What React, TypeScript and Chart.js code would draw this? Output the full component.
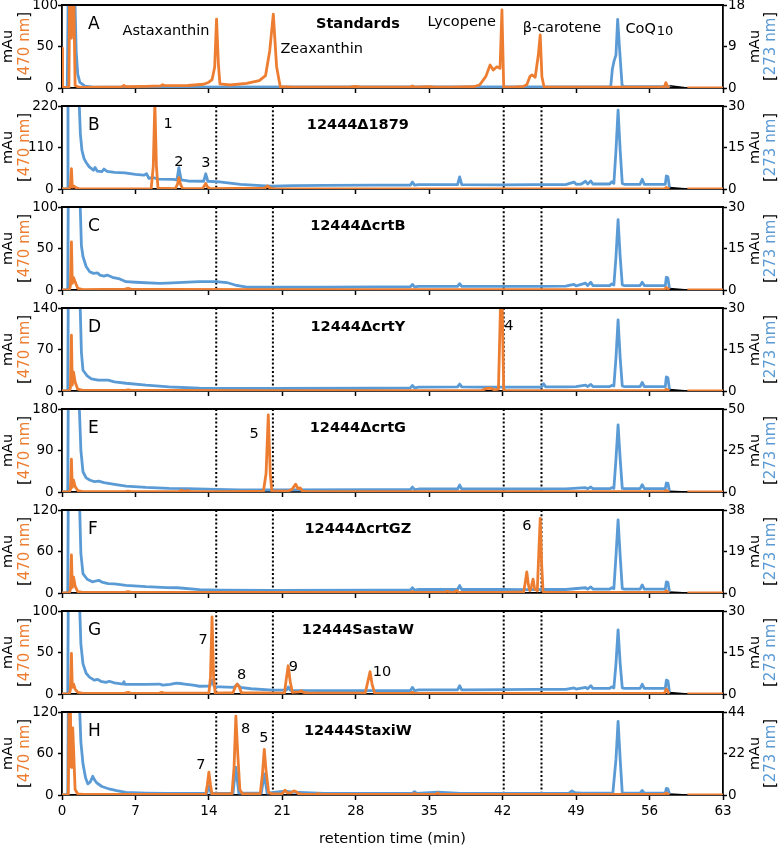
import React, { useEffect, useRef } from 'react';
import { Chart, registerables } from 'chart.js';

Chart.register(...registerables);

const ORANGE = '#ED7D31';
const BLUE = '#5B9BD5';
const FONT = 'DejaVu Sans';

type P = [number, number | null];

// ---------- data ----------
const panelLetters = ['A', 'B', 'C', 'D', 'E', 'F', 'G', 'H'];
const panelTitles = ['Standards', '12444Δ1879', '12444ΔcrtB', '12444ΔcrtY', '12444ΔcrtG', '12444ΔcrtGZ', '12444SastaW', '12444StaxiW'];
const leftMax = [100, 220, 100, 140, 180, 120, 100, 120];
const rightMax = [18, 30, 30, 30, 50, 38, 30, 44];
const markerTimes = [14.7, 20.1, 42.1, 45.7];
const timeMin = 0;
const timeMax = 63;
const timeStep = 7;

const orangeA: P[] = [[0, 48], [0.05, 1], [0.6, 0.5], [0.66, 2], [0.72, 110], [0.8, 110], [0.9, 60], [1.0, 110], [1.12, 110], [1.25, 3], [1.6, 1], [2, 0.8], [4, 1], [5.7, 1.2], [5.9, 3], [6.1, 1.5], [8, 2], [9.4, 2.5], [9.6, 4], [9.8, 2.8], [12, 3], [13.5, 4.5], [14.0, 7], [14.3, 10], [14.55, 25], [14.73, 83], [14.9, 30], [15.05, 5], [16, 3.6], [17.6, 5.5], [18.8, 9], [19.4, 15], [19.8, 45], [20.14, 89], [20.45, 26], [20.8, 1.5], [22, 1], [25, 1], [27.5, 1.2], [28, 2], [28.5, 1], [30, 1], [33.2, 1], [33.4, 2.5], [33.6, 1], [35, 1.5], [35.5, 1], [37, 1], [39.2, 1.5], [39.8, 3.6], [40.4, 14], [40.8, 27.7], [41.1, 21.7], [41.45, 25.7], [41.75, 23.7], [41.93, 94], [42.1, 1], [43, 1], [44.0, 2], [44.3, 4], [44.6, 14], [44.8, 15.7], [45.1, 12.9], [45.4, 40], [45.58, 64], [45.74, 13.6], [45.95, 1], [50, 1], [57.4, 1], [57.55, 6.4], [57.75, 1], [57.9, 0.5], [58.6, null], [59.6, 0], [63, 0]];
const blueA: P[] = [[0, 0], [0.5, 0], [0.6, 22], [1.2, 22], [1.35, 8], [1.5, 3], [1.7, 1.2], [2.2, 0.4], [3, 0.2], [52.3, 0.3], [52.45, 4], [52.6, 5.7], [52.8, 7.2], [52.96, 14.9], [53.15, 8.2], [53.38, 0.6], [53.6, 0.3], [57.9, 0.3]];

const orangeB: P[] = [[0, 0], [0.7, 0], [0.8, 10], [0.9, 54], [0.98, 5], [1.1, 8], [1.3, 4], [1.6, 1], [2, 0.5], [5, 0.5], [8.5, 1], [8.7, 60], [8.85, 230], [9.0, 60], [9.15, 2], [10.8, 1], [11.0, 12], [11.14, 30], [11.3, 12], [11.5, 1], [13.4, 1], [13.6, 10], [13.7, 14.7], [13.85, 6], [14.1, 1], [19.3, 2], [19.6, 8], [19.8, 3], [20.2, 0.5], [57.4, 0.5], [57.6, 4], [57.8, 1], [57.9, 0.5], [58.6, null], [59.6, 0], [63, 0]];
const blueB: P[] = [[0, 0], [0.5, 0], [0.57, 35], [1.6, 35], [1.75, 20], [1.9, 14], [2.1, 11], [2.3, 9.6], [2.6, 8], [3.0, 6.8], [3.15, 7.8], [3.35, 6.5], [3.8, 6.3], [4.0, 7.2], [4.3, 6.4], [5, 6.0], [6, 5.8], [7, 5.3], [7.8, 5.0], [8.05, 5.5], [8.3, 3.8], [8.6, 4.2], [9.2, 3.6], [10.6, 3.5], [10.95, 3.3], [11.14, 7.7], [11.35, 3.3], [12, 2.9], [13.5, 2.8], [13.7, 5.5], [13.9, 2.8], [15, 2.6], [17, 1.7], [19, 1.2], [20, 1.0], [22, 1.2], [25, 1.3], [30, 1.4], [33.2, 1.4], [33.4, 2.5], [33.6, 1.4], [34, 1.6], [37.7, 1.6], [37.9, 4.4], [38.1, 1.6], [42, 1.5], [45, 1.6], [48, 1.6], [48.8, 2.5], [49, 1.7], [49.5, 1.8], [49.9, 2.8], [50.1, 1.8], [50.4, 2.9], [50.6, 1.8], [52.2, 1.8], [52.4, 2.6], [52.6, 2], [52.8, 14], [53.0, 28.5], [53.2, 14], [53.4, 2], [53.6, 1.7], [55.1, 1.7], [55.3, 3.5], [55.5, 1.7], [57.5, 1.7], [57.6, 4.7], [57.75, 4.5], [57.9, 0.5]];

const orangeC: P[] = [[0, 0], [0.7, 0], [0.8, 5], [0.9, 58], [0.98, 8], [1.1, 15], [1.25, 10], [1.5, 2], [2, 0.5], [6, 1], [6.3, 2], [6.6, 0.8], [10, 0.8], [20, 0.5], [57.4, 0.5], [57.6, 3], [57.8, 1], [57.9, 0.5], [58.6, null], [59.6, 0], [63, 0]];
const blueC: P[] = [[0, 0], [0.55, 0], [0.6, 35], [1.7, 35], [1.85, 16], [2.0, 12.1], [2.3, 8.5], [2.64, 6.6], [3.0, 6.0], [3.4, 6.2], [3.6, 5.4], [4.0, 5.0], [4.3, 5.4], [4.8, 4.6], [5.5, 4.0], [6.1, 3.0], [7, 2.8], [9.3, 2.4], [10, 2.5], [11, 2.7], [13.1, 3.0], [14.7, 3.0], [15.7, 2.7], [16.5, 1.8], [17.6, 1.0], [20, 1.0], [25, 1.0], [30, 1.1], [33.2, 1.1], [33.4, 2.0], [33.6, 1.1], [34, 1.3], [37.7, 1.3], [37.9, 2.3], [38.1, 1.3], [42, 1.3], [45, 1.3], [48, 1.4], [48.8, 2.0], [49, 1.5], [49.9, 2.5], [50.1, 1.6], [50.4, 2.8], [50.6, 1.6], [52.2, 1.6], [52.4, 2.2], [52.6, 1.8], [52.8, 12], [53.0, 25.4], [53.2, 12], [53.4, 1.8], [53.6, 1.6], [55.1, 1.6], [55.3, 2.8], [55.5, 1.6], [57.5, 1.6], [57.6, 4.6], [57.75, 4.3], [57.9, 0.5]];

const orangeD: P[] = [[0, 0], [0.7, 0], [0.8, 5], [0.9, 94], [0.98, 10], [1.1, 32], [1.25, 15], [1.5, 3], [2, 1], [6, 1], [6.3, 2], [6.6, 1], [10, 1], [20, 0.7], [40, 0.7], [40.4, 4], [40.8, 5], [41.2, 2], [41.6, 3], [41.8, 150], [41.95, 150], [42.1, 2], [42.3, 0.7], [57.4, 0.7], [57.6, 3], [57.8, 1], [57.9, 0.5], [58.6, null], [59.6, 0], [63, 0]];
const blueD: P[] = [[0, 0], [0.55, 0], [0.6, 35], [1.7, 35], [1.85, 14], [2.0, 7.5], [2.4, 5.5], [2.8, 4.4], [3.44, 3.9], [4.4, 3.9], [5, 3.3], [6.1, 2.8], [8, 2.1], [10.2, 1.5], [13.1, 1.0], [16, 0.9], [20, 0.9], [30, 1.0], [33.2, 1.1], [33.4, 2.0], [33.6, 1.1], [34, 1.4], [37.7, 1.5], [37.9, 2.5], [38.1, 1.5], [40, 1.4], [41.5, 1.4], [42.2, 1.4], [45.7, 1.4], [45.9, 2.6], [46.1, 1.5], [48, 1.5], [49, 1.6], [49.9, 2.1], [50.1, 1.6], [50.4, 2.4], [50.6, 1.6], [52.2, 1.6], [52.4, 2.0], [52.6, 1.8], [52.8, 12], [53.0, 25.7], [53.2, 12], [53.4, 1.8], [53.6, 1.6], [55.1, 1.6], [55.3, 3.1], [55.5, 1.6], [57.5, 1.6], [57.6, 5.1], [57.75, 4.8], [57.9, 0.5]];

const orangeE: P[] = [[0, 0], [0.7, 0], [0.8, 5], [0.9, 71], [0.98, 10], [1.1, 26], [1.25, 12], [1.5, 3], [2, 1], [6, 1], [6.3, 2], [6.6, 1], [11.2, 1], [11.4, 4], [11.6, 1.5], [12.0, 3], [12.2, 1], [15, 1], [18, 1.5], [19.2, 2], [19.45, 40], [19.66, 167], [19.85, 40], [20.0, 2], [21.5, 2], [21.9, 5], [22.27, 17], [22.5, 7], [22.7, 9], [22.9, 2], [23.5, 1], [57.4, 1], [57.6, 3], [57.8, 1], [57.9, 0.5], [58.6, null], [59.6, 0], [63, 0]];
const blueE: P[] = [[0, 0], [0.55, 0], [0.6, 60], [1.6, 60], [1.8, 25], [2.0, 12.2], [2.3, 8.5], [2.64, 7.2], [3.1, 6.2], [3.5, 6.5], [4.0, 5.6], [5, 4.6], [6.1, 3.6], [8, 2.8], [10.2, 2.2], [12, 2.0], [14.7, 1.6], [17, 1.2], [20, 1.2], [30, 1.4], [33.2, 1.4], [33.4, 3], [33.6, 1.4], [34, 1.8], [37.7, 1.8], [37.9, 4.2], [38.1, 1.8], [42, 1.8], [45, 1.8], [48, 1.9], [49.9, 2.6], [50.1, 2.0], [50.4, 3.0], [50.6, 2.0], [52.2, 2.0], [52.4, 2.6], [52.6, 2.2], [52.8, 20], [53.0, 40.4], [53.2, 20], [53.4, 2.2], [53.6, 2.0], [55.1, 2.0], [55.3, 4.4], [55.5, 2.0], [57.5, 2.0], [57.6, 5.4], [57.75, 5.2], [57.9, 0.5]];

const orangeF: P[] = [[0, 0], [0.7, 0], [0.8, 5], [0.9, 55], [0.98, 8], [1.1, 23], [1.25, 10], [1.5, 2], [2, 0.8], [6, 1], [6.3, 2], [6.6, 0.8], [20, 0.8], [33.2, 0.8], [33.4, 2], [33.6, 0.8], [36.4, 0.8], [36.7, 2.5], [37.0, 1], [37.4, 1], [37.6, 3.5], [37.8, 1], [40, 1], [42, 1], [44.0, 1.5], [44.15, 15], [44.3, 30.5], [44.45, 12], [44.6, 3], [44.75, 10], [44.9, 20], [45.05, 6], [45.3, 3], [45.45, 60], [45.58, 108], [45.72, 40], [45.85, 2], [46.1, 0.8], [57.4, 0.8], [57.6, 3], [57.8, 1], [57.9, 0.5], [58.6, null], [59.6, 0], [63, 0]];
const blueF: P[] = [[0, 0], [0.55, 0], [0.6, 45], [1.65, 45], [1.8, 18], [2.0, 8.9], [2.4, 6.3], [2.9, 5.1], [3.3, 5.6], [3.5, 5.8], [3.8, 5.0], [4.4, 4.3], [5, 4.2], [6.1, 3.5], [8, 2.9], [10, 2.5], [11, 2.4], [13.1, 1.5], [15, 1.3], [20, 1.2], [30, 1.3], [33.2, 1.3], [33.4, 2.4], [33.6, 1.3], [34, 1.6], [37.7, 1.6], [37.9, 3.4], [38.1, 1.6], [42, 1.6], [44, 1.5], [46.2, 1.6], [48, 1.6], [49.9, 2.4], [50.1, 1.8], [50.4, 2.8], [50.6, 1.8], [52.2, 1.8], [52.4, 2.4], [52.6, 2.0], [52.8, 17], [53.0, 33.5], [53.2, 17], [53.4, 2.0], [53.6, 1.8], [55.1, 1.8], [55.3, 3.7], [55.5, 1.8], [57.5, 1.8], [57.6, 5.1], [57.75, 4.9], [57.9, 0.5]];

const orangeG: P[] = [[0, 0], [0.7, 0], [0.8, 5], [0.9, 49], [0.98, 8], [1.1, 12], [1.25, 6], [1.5, 2], [2, 0.8], [6, 1], [6.3, 2], [6.6, 0.8], [9.3, 1], [9.5, 2], [9.7, 1], [14.0, 1], [14.15, 20], [14.3, 93], [14.45, 20], [14.6, 1], [16.3, 1.5], [16.5, 8], [16.7, 12], [16.9, 8], [17.1, 1.5], [21.2, 1], [21.4, 20], [21.56, 34], [21.75, 15], [21.95, 2], [22.6, 2.5], [22.8, 4], [23.0, 2], [23.5, 1], [28.9, 1], [29.15, 15], [29.36, 27], [29.55, 12], [29.8, 1], [33.2, 0.8], [33.4, 2], [33.6, 0.8], [57.4, 0.8], [57.6, 6], [57.8, 1.5], [57.9, 0.5], [58.6, null], [59.6, 0], [63, 0]];
const blueG: P[] = [[0, 0], [0.55, 0], [0.6, 35], [1.65, 35], [1.8, 18], [2.0, 10.9], [2.3, 7.5], [2.64, 6.0], [3.1, 5.0], [3.4, 5.3], [3.7, 4.6], [4.2, 4.2], [4.5, 4.6], [5, 4.0], [5.8, 3.6], [5.9, 4.4], [6.0, 3.5], [7, 3.5], [8, 3.5], [9.3, 3.6], [9.6, 3.2], [10.3, 3.5], [10.9, 3.9], [11.5, 3.7], [12.5, 3.2], [13.1, 2.8], [14.1, 2.9], [14.3, 5], [14.5, 2.7], [16.4, 2.4], [16.7, 3.5], [17.0, 2.4], [18, 1.9], [20.1, 1.4], [21.4, 1.4], [21.56, 2.5], [21.75, 1.3], [25, 1.2], [30, 1.2], [33.2, 1.2], [33.4, 2.4], [33.6, 1.2], [34, 1.5], [37.7, 1.5], [37.9, 3.0], [38.1, 1.5], [42, 1.6], [45, 1.7], [48, 1.7], [48.8, 2.2], [49, 1.8], [49.9, 2.4], [50.1, 1.9], [50.4, 3.0], [50.6, 2.0], [52.2, 2.0], [52.4, 2.6], [52.6, 2.2], [52.8, 11], [53.0, 23.2], [53.2, 11], [53.4, 2.2], [53.6, 2.0], [55.1, 2.0], [55.3, 3.5], [55.5, 2.0], [57.5, 2.0], [57.6, 5.0], [57.75, 4.8], [57.9, 0.5]];

const orangeH: P[] = [[0, 0], [0.6, 0], [0.68, 125], [0.8, 125], [0.88, 40], [0.95, 70], [1.02, 97], [1.12, 60], [1.25, 8], [1.5, 1.5], [2, 0.8], [10, 0.8], [13.7, 1], [13.85, 15], [14.0, 33], [14.15, 15], [14.3, 1.5], [16.2, 2], [16.4, 40], [16.57, 114], [16.75, 60], [16.95, 8], [17.2, 1.5], [18.9, 2], [19.1, 30], [19.28, 66], [19.45, 35], [19.7, 3], [20.1, 1.5], [21.0, 2], [21.25, 7], [21.5, 3], [21.8, 3], [22.1, 6], [22.3, 5], [22.5, 2], [23, 1], [24.2, 1], [24.4, 2], [24.6, 1], [33.4, 1], [33.6, 2], [33.8, 1], [35.6, 1], [35.8, 3], [36, 1], [57.4, 0.8], [57.6, 3], [57.8, 1], [57.9, 0.5], [58.6, null], [59.6, 0], [63, 0]];
const blueH: P[] = [[0, 0], [0.55, 0], [0.6, 50], [1.65, 50], [1.8, 28], [2.0, 16.5], [2.25, 9], [2.46, 5.9], [2.7, 7], [2.93, 9.9], [3.1, 8], [3.3, 6.5], [3.8, 4.5], [4.5, 3.2], [5.2, 2.3], [6.1, 1.4], [8, 1.0], [10, 0.8], [13.8, 0.8], [14.0, 5], [14.2, 0.8], [16.3, 1], [16.57, 14.7], [16.85, 1], [19.0, 1], [19.28, 11.2], [19.55, 1], [21.25, 2], [22, 1.5], [25, 0.9], [30, 0.9], [33.4, 0.9], [33.6, 1.8], [33.8, 0.9], [35.8, 1.5], [38, 0.9], [45, 0.9], [48.3, 0.9], [48.6, 2.2], [48.9, 1.2], [49.5, 1.0], [52.5, 1.0], [52.8, 19], [53.0, 39], [53.2, 19], [53.4, 1.0], [55.1, 1.0], [55.3, 2.4], [55.5, 1.0], [57.5, 1.0], [57.6, 3.5], [57.75, 3.3], [57.9, 0.5]];

const blackTrace: P[] = [[1.1, 0], [1.6, 0], [1.7, null], [57.9, 0.5], [59.6, 0]];

const orangeSeries = [orangeA, orangeB, orangeC, orangeD, orangeE, orangeF, orangeG, orangeH];
const blueSeries = [blueA, blueB, blueC, blueD, blueE, blueF, blueG, blueH];

type Lbl = { t: number; v: number; text: string; sub?: string; align?: 'left' | 'center' };
const peakLabels: Lbl[][] = [
  [
    { t: 9.91, v: 63.9, text: 'Astaxanthin' },
    { t: 24.75, v: 42.5, text: 'Zeaxanthin' },
    { t: 38.1, v: 74.7, text: 'Lycopene' },
    { t: 47.65, v: 67.8, text: 'β-carotene' },
    { t: 53.7, v: 65.9, text: 'CoQ', sub: '10', align: 'left' },
  ],
  [
    { t: 10.12, v: 163, text: '1' },
    { t: 11.15, v: 60.8, text: '2' },
    { t: 13.71, v: 59, text: '3' },
  ],
  [],
  [{ t: 42.6, v: 103, text: '4' }],
  [{ t: 18.3, v: 117.8, text: '5' }],
  [{ t: 44.3, v: 91, text: '6' }],
  [
    { t: 13.46, v: 60.4, text: '7' },
    { t: 17.12, v: 18.1, text: '8' },
    { t: 22.04, v: 28.1, text: '9' },
    { t: 30.5, v: 22.1, text: '10' },
  ],
  [
    { t: 13.23, v: 37.7, text: '7' },
    { t: 17.5, v: 90, text: '8' },
    { t: 19.25, v: 76.3, text: '5' },
  ],
];
const titleTime = 28.2;

// ---------- layout ----------
const CANVAS_W = 780;
const PLOT_H = 83;
const PITCH = 101;
const FIRST_TOP = 5;
const PAD_TOP = 10;
const AXIS_SMALL = 10;
const AXIS_LAST = 55;
const LEFT_W = 62;
const RIGHT_W = 57;

const toXY = (arr: P[]) => arr.map(([x, y]) => ({ x, y }));

function drawVertical(ctx: CanvasRenderingContext2D, cx: number, cy: number, segs: [string, string][], font: string) {
  ctx.save();
  ctx.font = font;
  ctx.translate(cx, cy);
  ctx.rotate(-Math.PI / 2);
  const widths = segs.map((s) => ctx.measureText(s[0]).width);
  const total = widths.reduce((a, b) => a + b, 0);
  let x = -total / 2;
  ctx.textBaseline = 'middle';
  ctx.textAlign = 'left';
  segs.forEach((s, k) => {
    ctx.fillStyle = s[1];
    ctx.fillText(s[0], x, 0);
    x += widths[k];
  });
  ctx.restore();
}

const decorPlugin = {
  id: 'decor',
  beforeDatasetsDraw(chart: any, _args: any, opts: any) {
    const i = opts.index;
    if (i === 0) return;
    const { ctx, chartArea: a, scales } = chart;
    ctx.save();
    ctx.strokeStyle = '#000';
    ctx.lineWidth = 2;
    ctx.setLineDash([2, 2.2]);
    for (const t of markerTimes) {
      const px = scales.x.getPixelForValue(t);
      ctx.beginPath();
      ctx.moveTo(px, a.top);
      ctx.lineTo(px, a.bottom);
      ctx.stroke();
    }
    ctx.restore();
  },
  afterDraw(chart: any, _args: any, opts: any) {
    const i = opts.index;
    const { ctx, chartArea: a, scales } = chart;
    ctx.save();
    // top frame line
    ctx.strokeStyle = '#000';
    ctx.lineWidth = 1.8;
    ctx.beginPath();
    ctx.moveTo(a.left - 0.9, a.top);
    ctx.lineTo(a.right + 0.9, a.top);
    ctx.stroke();

    // panel letter
    ctx.fillStyle = '#000';
    ctx.textBaseline = 'alphabetic';
    ctx.textAlign = 'left';
    ctx.font = `17px "${FONT}"`;
    ctx.fillText(panelLetters[i], a.left + 26, a.top + 24);

    // panel title
    ctx.textAlign = 'center';
    ctx.font = `bold 14.5px "${FONT}"`;
    ctx.fillText(panelTitles[i], scales.x.getPixelForValue(titleTime), a.top + 23);

    // peak labels
    for (const l of peakLabels[i]) {
      const px = scales.x.getPixelForValue(l.t);
      const py = scales.yL.getPixelForValue(l.v);
      ctx.textAlign = l.align === 'left' ? 'left' : 'center';
      ctx.font = `14.5px "${FONT}"`;
      ctx.fillText(l.text, px, py);
      if (l.sub) {
        const w = ctx.measureText(l.text).width;
        ctx.textAlign = 'left';
        ctx.font = `13px "${FONT}"`;
        ctx.fillText(l.sub, px + w + 1, py + 2);
      }
    }
    ctx.restore();

    // axis titles
    const cy = (a.top + a.bottom) / 2;
    const f1 = `14.5px "${FONT}"`;
    const f2 = `15px "${FONT}"`;
    drawVertical(ctx, 8, cy, [['mAu', '#000']], f1);
    drawVertical(ctx, 25, cy, [['[', '#000'], ['470 nm', ORANGE], [']', '#000']], f2);
    drawVertical(ctx, 755, cy, [['mAu', '#000']], f1);
    drawVertical(ctx, 771, cy, [['[', '#000'], ['273 nm', BLUE], [']', '#000']], f2);
  },
};

function buildConfig(i: number): any {
  const last = i === panelLetters.length - 1;
  const tickFont = { family: FONT, size: 13.5 };
  const lm = leftMax[i];
  const rm = rightMax[i];
  const lineBase = { pointRadius: 0, borderWidth: 2.8, tension: 0, fill: false, spanGaps: false, borderJoinStyle: 'round' };
  return {
    type: 'line',
    data: {
      datasets: [
        { ...lineBase, data: toXY(orangeSeries[i]), borderColor: ORANGE, yAxisID: 'yL', order: 0 },
        { ...lineBase, data: toXY(blueSeries[i]), borderColor: BLUE, yAxisID: 'yR', order: 1 },
        { ...lineBase, borderWidth: 1.5, data: toXY(blackTrace), borderColor: '#000', yAxisID: 'yR', order: 2 },
      ],
    },
    plugins: [decorPlugin],
    options: {
      responsive: false,
      animation: false,
      events: [],
      layout: { padding: { top: PAD_TOP, left: 0, right: 0, bottom: 0 } },
      plugins: {
        legend: { display: false },
        tooltip: { enabled: false },
        decor: { index: i },
      },
      scales: {
        x: {
          type: 'linear',
          min: timeMin,
          max: timeMax,
          ticks: { stepSize: timeStep, display: last, autoSkip: false, font: tickFont, color: '#000', padding: 3, maxRotation: 0 },
          grid: { display: true, drawOnChartArea: false, drawTicks: true, tickLength: 5, tickColor: '#000', tickWidth: 1.5 },
          border: { display: true, color: '#000', width: 1.8 },
          title: {
            display: last,
            text: 'retention time (min)',
            color: '#000',
            font: { family: FONT, size: 14.5 },
            padding: { top: 0, bottom: 2 },
          },
          afterFit: (s: any) => {
            s.height = last ? AXIS_LAST : AXIS_SMALL;
          },
        },
        yL: {
          type: 'linear',
          position: 'left',
          min: 0,
          max: lm,
          ticks: {
            stepSize: lm / 2,
            font: tickFont,
            color: '#000',
            padding: 0,
            callback: (v: number) => (v === lm ? `${v}` : `${v} `),
          },
          grid: { drawOnChartArea: false, drawTicks: true, tickLength: 4, tickColor: '#000', tickWidth: 1.5 },
          border: { display: true, color: '#000', width: 1.8 },
          afterFit: (s: any) => {
            s.width = LEFT_W;
          },
        },
        yR: {
          type: 'linear',
          position: 'right',
          min: 0,
          max: rm,
          ticks: { stepSize: rm / 2, font: tickFont, color: '#000', padding: 1 },
          grid: { drawOnChartArea: false, drawTicks: true, tickLength: 4, tickColor: '#000', tickWidth: 1.5 },
          border: { display: true, color: '#000', width: 1.8 },
          afterFit: (s: any) => {
            s.width = RIGHT_W;
          },
        },
      },
    },
  };
}

function Panel({ idx }: { idx: number }) {
  const ref = useRef<HTMLCanvasElement | null>(null);
  const last = idx === panelLetters.length - 1;
  const h = PAD_TOP + PLOT_H + (last ? AXIS_LAST : AXIS_SMALL);
  useEffect(() => {
    if (!ref.current) return;
    const chart = new Chart(ref.current, buildConfig(idx));
    return () => chart.destroy();
  }, [idx]);
  return (
    <canvas
      ref={ref}
      width={CANVAS_W}
      height={h}
      style={{ position: 'absolute', left: 0, top: FIRST_TOP + PITCH * idx - PAD_TOP, width: CANVAS_W, height: h }}
    />
  );
}

export default function App() {
  return (
    <div style={{ position: 'absolute', left: 0, top: 0, width: 780, height: 850, background: '#fff', overflow: 'hidden' }}>
      {panelLetters.map((_, i) => (
        <Panel key={i} idx={i} />
      ))}
    </div>
  );
}
